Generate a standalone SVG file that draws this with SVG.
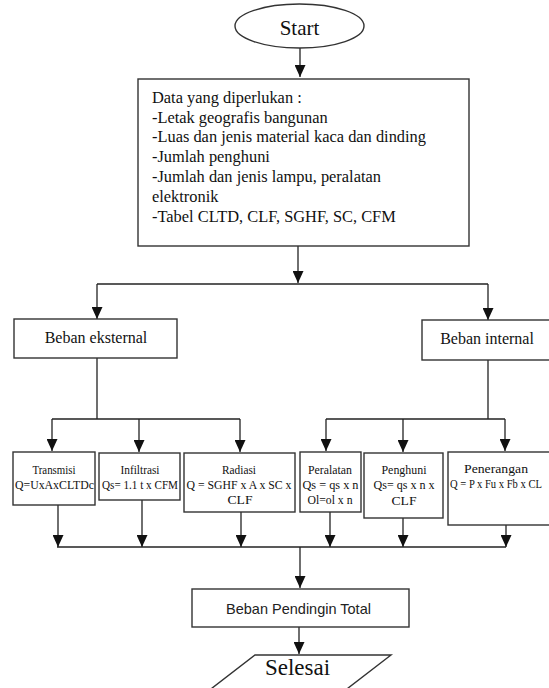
<svg xmlns="http://www.w3.org/2000/svg" width="549" height="688" viewBox="0 0 549 688">
<style>
.box{fill:#fff;stroke:#333;stroke-width:1.4}
.ln{fill:none;stroke:#222;stroke-width:1.3}
.ar{fill:none;stroke:#222;stroke-width:1.3;marker-end:url(#ah)}
.t{font-family:"Liberation Serif","Times New Roman","DejaVu Serif",serif;fill:#111}
.d{font-size:16.4px}
.m{font-size:16px;text-anchor:middle}
.s{font-size:13.5px;text-anchor:middle}
.sans{font-family:"Liberation Sans",Arial,sans-serif;font-size:14.5px;text-anchor:middle;fill:#222}
</style>
<defs>
<marker id="ah" markerUnits="userSpaceOnUse" markerWidth="12" markerHeight="11" refX="12" refY="5.5" orient="auto" viewBox="0 0 12 11">
<path d="M0,0 L12,5.5 L0,11 z" fill="#111"/>
</marker>
</defs>
<g id="connectors">
<path class="ar" d="M300,48 V77"/>
<path class="ar" d="M298,246 V283"/>
<path class="ln" d="M97,284 H488"/>
<path class="ar" d="M97,284 V319"/>
<path class="ar" d="M488,284 V320"/>
<path class="ln" d="M97,358 V419 M52,419 H240"/>
<path class="ar" d="M52,419 V451"/>
<path class="ar" d="M139,419 V452"/>
<path class="ar" d="M240,419 V452"/>
<path class="ln" d="M488,360 V419 M326,419 H505"/>
<path class="ar" d="M326,419 V451"/>
<path class="ar" d="M403,419 V452"/>
<path class="ar" d="M505,419 V451"/>
<path class="ar" d="M58,505 V547"/>
<path class="ar" d="M142,500 V547"/>
<path class="ar" d="M241,512 V547"/>
<path class="ar" d="M330,512 V547"/>
<path class="ar" d="M403,518 V547"/>
<path class="ar" d="M506,525 V547"/>
<path class="ln" d="M57,547 H506"/>
<path class="ar" d="M300,547 V588"/>
<path class="ar" d="M299,627 V654"/>
</g>
<g id="start">
<ellipse class="box" cx="299.5" cy="26" rx="64.5" ry="22"/>
<text class="t" x="299.5" y="35" font-size="21" text-anchor="middle">Start</text>
</g>
<g id="data">
<rect class="box" x="138" y="79" width="331" height="167"/>
<text class="t d" x="152" y="102.7">Data yang diperlukan :</text>
<text class="t d" x="152" y="122.5">-Letak geografis bangunan</text>
<text class="t d" x="152" y="142.3">-Luas dan jenis material kaca dan dinding</text>
<text class="t d" x="152" y="162.1">-Jumlah penghuni</text>
<text class="t d" x="152" y="181.9">-Jumlah dan jenis lampu, peralatan</text>
<text class="t d" x="152" y="201.7">elektronik</text>
<text class="t d" x="152" y="221.5">-Tabel CLTD, CLF, SGHF, SC, CFM</text>
</g>
<g id="eksternal">
<rect class="box" x="14" y="319" width="163" height="39"/>
<text class="t m" x="96" y="343">Beban eksternal</text>
</g>
<g id="internal">
<rect class="box" x="422" y="320" width="140" height="40"/>
<text class="t m" x="487" y="344">Beban internal</text>
</g>
<g id="transmisi">
<rect class="box" x="13" y="452" width="82" height="53"/>
<text class="t s" x="54" y="474" textLength="43" lengthAdjust="spacingAndGlyphs">Transmisi</text>
<text class="t s" x="54.5" y="489" textLength="79" lengthAdjust="spacingAndGlyphs">Q=UxAxCLTDc</text>
</g>
<g id="infiltrasi">
<rect class="box" x="99" y="453" width="81" height="47"/>
<text class="t s" x="140" y="474" textLength="39" lengthAdjust="spacingAndGlyphs">Infiltrasi</text>
<text class="t s" x="140" y="489" textLength="76" lengthAdjust="spacingAndGlyphs">Qs= 1.1 t x CFM</text>
</g>
<g id="radiasi">
<rect class="box" x="184" y="453" width="111" height="59"/>
<text class="t s" x="239" y="474" textLength="34" lengthAdjust="spacingAndGlyphs">Radiasi</text>
<text class="t s" x="239" y="489" textLength="105" lengthAdjust="spacingAndGlyphs">Q = SGHF x A x SC x</text>
<text class="t s" x="240" y="504" textLength="25" lengthAdjust="spacingAndGlyphs">CLF</text>
</g>
<g id="peralatan">
<rect class="box" x="300" y="452" width="61" height="60"/>
<text class="t s" x="330" y="474" textLength="44" lengthAdjust="spacingAndGlyphs">Peralatan</text>
<text class="t s" x="330.5" y="489" textLength="56" lengthAdjust="spacingAndGlyphs">Qs = qs x n</text>
<text class="t s" x="330" y="504" textLength="45" lengthAdjust="spacingAndGlyphs">Ol=ol x n</text>
</g>
<g id="penghuni">
<rect class="box" x="364" y="453" width="79" height="65"/>
<text class="t s" x="404" y="474" textLength="45" lengthAdjust="spacingAndGlyphs">Penghuni</text>
<text class="t s" x="404" y="489" textLength="61" lengthAdjust="spacingAndGlyphs">Qs= qs x n x</text>
<text class="t s" x="404" y="505" textLength="25" lengthAdjust="spacingAndGlyphs">CLF</text>
</g>
<g id="penerangan">
<rect class="box" x="448" y="452" width="114" height="73"/>
<text class="t s" x="496" y="473" textLength="64" lengthAdjust="spacingAndGlyphs">Penerangan</text>
<text class="t" x="450" y="488" font-size="13" textLength="92" lengthAdjust="spacingAndGlyphs">Q = P x Fu x Fb x CL</text>
</g>
<g id="total">
<rect class="box" x="192" y="589" width="217" height="38"/>
<text class="sans" x="298.5" y="613.5">Beban Pendingin Total</text>
</g>
<g id="selesai">
<polygon class="box" points="255,655 391,655 330,702 194,702"/>
<text class="t" x="297.5" y="675" font-size="23" text-anchor="middle">Selesai</text>
</g>
</svg>
